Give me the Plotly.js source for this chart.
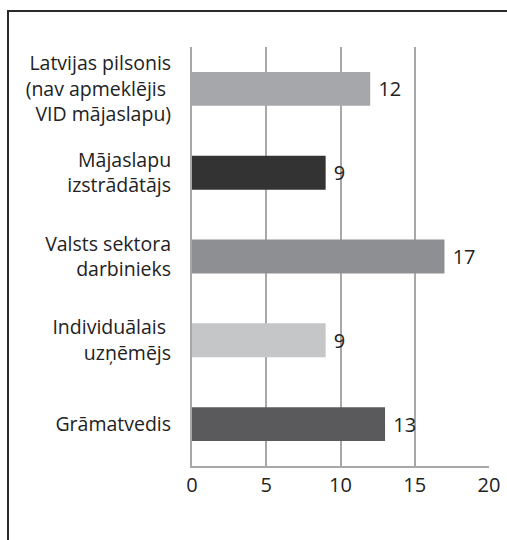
<!DOCTYPE html>
<html>
<head>
<meta charset="utf-8">
<script src="https://cdn.plot.ly/plotly-3.0.1.min.js"></script>
<style>
  html, body { margin: 0; padding: 0; background: #fff; }
  #wrap { position: relative; width: 507px; height: 540px; overflow: hidden; }
  #chart { position: absolute; left: 0; top: 0; width: 507px; height: 540px; }
  #frame { position: absolute; left: 7px; top: 10px; width: 520px; height: 560px;
           border-left: 2px solid #2a2a2a; border-top: 2px solid #2a2a2a; pointer-events: none; }
</style>
</head>
<body>
<div id="wrap">
  <div id="chart"></div>
  <div id="frame"></div>
</div>
<script>
// Categories top to bottom
const categories = [
  "Latvijas pilsonis<br>(nav apmeklējis <br>VID mājaslapu)",
  "Mājaslapu<br>izstrādātājs",
  "Valsts sektora<br>darbinieks",
  "Individuālais <br>uzņēmējs",
  "Grāmatvedis"
];
const values = [12, 9, 17, 9, 13];
const barColors = ["#a6a7aa", "#333333", "#8e8f92", "#c5c6c8", "#5a5a5c"];
const xTicks = [0, 5, 10, 15, 20];

const font = "'Open Sans', 'Liberation Sans', sans-serif";

Plotly.newPlot("chart", [{
  type: "bar",
  orientation: "h",
  y: categories,
  x: values,
  marker: { color: barColors, line: { width: 0 } },
  text: values.map(v => "\u00a0" + v),
  textposition: "outside",
  textfont: { family: font, size: 20, color: "#222" },
  cliponaxis: false,
  hoverinfo: "none"
}], {
  width: 507,
  height: 540,
  margin: { l: 192, r: 18, t: 47, b: 74 },
  paper_bgcolor: "#fff",
  plot_bgcolor: "#fff",
  bargap: 0.595,
  showlegend: false,
  font: { family: font, color: "#222" },
  xaxis: {
    range: [0, 20],
    tickvals: xTicks,
    ticktext: xTicks.map(String),
    showgrid: true,
    gridcolor: "#a8a8a8",
    gridwidth: 2,
    zeroline: false,
    showline: true,
    linecolor: "#a8a8a8",
    linewidth: 2,
    ticks: "",
    tickfont: { family: font, size: 20, color: "#222" },
    fixedrange: true
  },
  yaxis: {
    autorange: "reversed",
    type: "category",
    showgrid: false,
    zeroline: false,
    showline: true,
    linecolor: "#a8a8a8",
    linewidth: 2,
    ticks: "",
    ticklabelstandoff: 15,
    tickfont: { family: font, size: 19.5, color: "#222" },
    fixedrange: true
  }
}, { displayModeBar: false, staticPlot: true });
</script>
</body>
</html>
